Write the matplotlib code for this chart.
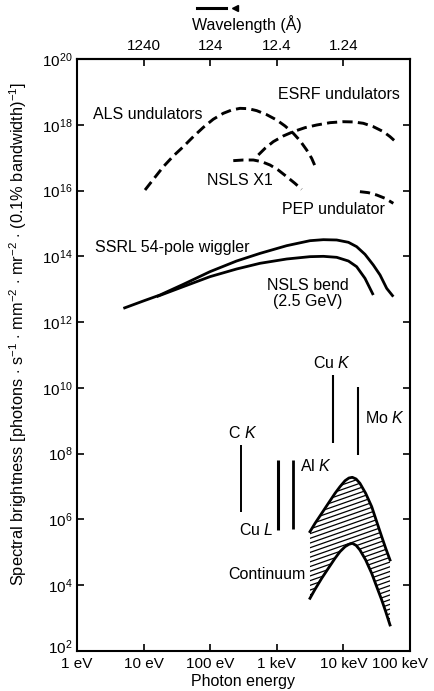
import numpy as np
import matplotlib
matplotlib.use("Agg")
import matplotlib.pyplot as plt
import matplotlib.transforms as mtrans
from matplotlib.collections import LineCollection
from matplotlib.ticker import FixedLocator, NullLocator, FixedFormatter, LogFormatterMathtext
from matplotlib.lines import Line2D

plt.rcParams['font.family'] = ['Liberation Sans', 'DejaVu Sans']
plt.rcParams['mathtext.fontset'] = 'custom'
plt.rcParams['mathtext.rm'] = 'Liberation Sans'
plt.rcParams['mathtext.it'] = 'Liberation Sans:italic'
plt.rcParams['mathtext.bf'] = 'Liberation Sans:bold'

# ---------------- data (photon energy in eV, brightness) ----------------
E_als = [10.5, 14.0, 19.8, 27.9, 39.5, 55.8, 78.9, 111, 157, 210, 280, 374, 499,
         705, 995, 1330, 1770, 2230, 2810, 3340, 3750]
B_als = [1.04e16, 2.19e16, 5.32e16, 1.12e17, 2.16e17, 4.36e17, 8.36e17, 1.47e18,
         2.23e18, 2.81e18, 3.16e18, 3.09e18, 2.69e18, 2.03e18, 1.40e18, 9.18e17,
         5.50e17, 3.29e17, 1.71e17, 9.55e16, 5.58e16]

E_esrf = [528, 665, 887, 1250, 1770, 2650, 3970, 6300, 9980, 14100, 19900, 28100,
          39800, 50100, 63100]
B_esrf = [1.21e17, 1.92e17, 3.07e17, 4.56e17, 6.18e17, 8.17e17, 9.84e17, 1.16e18,
          1.24e18, 1.22e18, 1.11e18, 8.77e17, 6.18e17, 4.36e17, 2.86e17]

E_x1 = [222, 314, 445, 593, 791, 1050, 1410, 1870, 2360]
B_x1 = [8.11e16, 8.49e16, 8.49e16, 7.55e16, 5.98e16, 4.22e16, 2.64e16, 1.66e16, 1.09e16]

E_pep = [17700, 23700, 31600, 42200, 56200]
B_pep = [9.25e15, 8.63e15, 7.33e15, 5.81e15, 4.09e15]

E_ssrl = [4.97, 9.91, 17.6, 39.5, 99.3, 249, 560, 1410, 3150, 5000, 7930, 11900,
          15800, 21100, 28100, 35500, 44700, 56200]
B_ssrl = [2.62e12, 4.39e12, 6.67e12, 1.41e13, 3.42e13, 7.21e13, 1.23e14, 2.11e14,
          2.99e14, 3.21e14, 3.14e14, 2.67e14, 1.97e14, 1.15e14, 5.46e13, 2.71e13,
          1.06e13, 5.94e12]

E_bend = [15.7, 39.5, 99.3, 249, 560, 1410, 3150, 5000, 7930, 11900, 15800, 21100, 28100]
B_bend = [5.94e12, 1.20e13, 2.41e13, 4.12e13, 6.14e13, 8.30e13, 9.77e13, 1.0e14,
          9.33e13, 7.21e13, 4.85e13, 2.14e13, 6.67e12]

line_names = ['C K', 'Cu L', 'Al K', 'Cu K', 'Mo K']
line_E = [290, 1040, 1750, 6980, 16600]
line_top = [1.8e8, 6.4e7, 6.4e7, 2.5e10, 1.07e10]
line_bot = [1.7e6, 4.8e5, 5.0e5, 2.1e8, 9.1e7]

E_cont = [3150, 3750, 4720, 5940, 7480, 8890, 10600, 12100, 13600, 15500, 17700,
          21600, 26600, 31600, 37600, 43200, 50100]
B_cont_hi = [4.26e5, 7.62e5, 1.53e6, 3.09e6, 6.22e6, 9.93e6, 1.51e7, 1.82e7, 1.91e7,
             1.70e7, 1.26e7, 6.22e6, 2.45e6, 8.57e5, 3.0e5, 1.32e5, 5.85e4]
B_cont_lo = [4.0e3, 7.52e3, 1.62e4, 3.27e4, 6.58e4, 1.05e5, 1.49e5, 1.75e5, 1.88e5,
             1.63e5, 1.18e5, 5.85e4, 2.30e4, 9.04e3, 3.56e3, 1.57e3, 6.18e2]

x_ticks = [1, 10, 100, 1e3, 1e4, 1e5]
x_ticklabels = ['1 eV', '10 eV', '100 eV', '1 keV', '10 keV', '100 keV']
y_ticks = [1e2, 1e4, 1e6, 1e8, 1e10, 1e12, 1e14, 1e16, 1e18, 1e20]
wl_ticks = [1240, 124, 12.4, 1.24]
wl_ticklabels = ['1240', '124', '12.4', '1.24']
HC = 12400.0  # eV*Angstrom

# ---------------- figure ----------------
W, H = 434, 691
fig = plt.figure(figsize=(W / 100, H / 100), dpi=100)
fig.patch.set_facecolor('white')
ax = fig.add_axes([77 / W, 1 - 651 / H, 333 / W, 592 / H])
ax.set_xscale('log')
ax.set_yscale('log')
ax.set_xlim(1, 1e5)
ax.set_ylim(1e2, 1e20)

for s in ax.spines.values():
    s.set_linewidth(1.5)

dash = (0, (3.5, 1.8))
lw_c = 2.1
for E, B in [(E_als, B_als), (E_esrf, B_esrf), (E_x1, B_x1), (E_pep, B_pep)]:
    ax.plot(E, B, color='black', lw=lw_c, linestyle=dash)
ax.plot(E_ssrl, B_ssrl, color='black', lw=2.0, solid_capstyle='butt', solid_joinstyle='round')
ax.plot(E_bend, B_bend, color='black', lw=2.0, solid_capstyle='butt', solid_joinstyle='round')

line_lw = [1.4, 2.2, 2.0, 1.5, 1.5]
ax.vlines(line_E, line_bot, line_top, colors='black', linewidths=line_lw)

# continuum band with hatching
poly = ax.fill_between(E_cont, B_cont_lo, B_cont_hi, facecolor='none', edgecolor='none')
slope = 0.35 * 333 / 592
cs = np.arange(-0.4, 0.6, 4.7 / 592)
segs = [[(0, c), (1, c + slope)] for c in cs]
hatch = LineCollection(segs, colors='black', linewidths=0.9, transform=ax.transAxes)
ax.add_collection(hatch)
hatch.set_clip_path(poly.get_paths()[0], poly.get_transform())
ax.plot(E_cont, B_cont_hi, color='black', lw=2.0, solid_joinstyle='round')
ax.plot(E_cont, B_cont_lo, color='black', lw=2.0, solid_joinstyle='round')

# ticks
tfs = 11
ax.xaxis.set_major_locator(FixedLocator(x_ticks))
ax.xaxis.set_major_formatter(FixedFormatter(x_ticklabels))
ax.xaxis.set_minor_locator(NullLocator())
ax.yaxis.set_major_locator(FixedLocator(y_ticks))
ax.yaxis.set_major_formatter(LogFormatterMathtext())
ax.yaxis.set_minor_locator(NullLocator())
ax.tick_params(axis='both', which='major', direction='in', length=5, width=1.2,
               labelsize=tfs, top=False, right=True, pad=3)
ax.tick_params(axis='x', pad=4)
last = ax.xaxis.get_major_ticks()[-1]
last.label1.set_transform(last.label1.get_transform()
                          + mtrans.ScaledTranslation(-10 / 100, 0, fig.dpi_scale_trans))
first_y = ax.yaxis.get_major_ticks()[0]
first_y.label1.set_transform(first_y.label1.get_transform()
                             + mtrans.ScaledTranslation(0, 5 / 100, fig.dpi_scale_trans))

sec = ax.secondary_xaxis('top', functions=(lambda e: HC / e, lambda l: HC / l))
sec.xaxis.set_major_locator(FixedLocator(wl_ticks))
sec.xaxis.set_major_formatter(FixedFormatter(wl_ticklabels))
sec.xaxis.set_minor_locator(NullLocator())
sec.tick_params(direction='in', length=5, width=1.2, labelsize=tfs, pad=4)
sec.spines['top'].set_linewidth(1.5)

# labels on curves
fs = 11.5
ax.text(1.74, 10**18.30, 'ALS undulators', fontsize=fs, va='center', ha='left')
ax.text(1040, 10**18.91, 'ESRF undulators', fontsize=fs, va='center', ha='left')
ax.text(89, 10**16.32, 'NSLS X1', fontsize=fs, va='center', ha='left')
ax.text(1200, 10**15.41, 'PEP undulator', fontsize=fs, va='center', ha='left')
ax.text(1.86, 10**14.28, 'SSRL 54-pole wiggler', fontsize=fs, va='center', ha='left')
ax.text(2940, 10**12.87, 'NSLS bend\n(2.5 GeV)', fontsize=fs, va='center', ha='center',
        linespacing=1.05)
ax.text(3500, 10**10.76, r'Cu $\mathit{K}$', fontsize=fs, va='center', ha='left')
ax.text(21100, 10**9.08, r'Mo $\mathit{K}$', fontsize=fs, va='center', ha='left')
ax.text(185, 10**8.63, r'C $\mathit{K}$', fontsize=fs, va='center', ha='left')
ax.text(271, 10**5.68, r'Cu $\mathit{L}$', fontsize=fs, va='center', ha='left')
ax.text(2230, 10**7.63, r'Al $\mathit{K}$', fontsize=fs, va='center', ha='left')
ax.text(185, 10**4.34, 'Continuum', fontsize=fs, va='center', ha='left')

# axis titles
fig.text(247 / W, 1 - 30 / H, 'Wavelength (Å)', fontsize=fs, ha='center', va='baseline')
fig.text(243 / W, 1 - 686 / H, 'Photon energy', fontsize=fs, ha='center', va='baseline')
fig.text(18 / W, 1 - 334 / H,
         r'Spectral brightness [photons $\cdot$ s$^{-1}$ $\cdot$ mm$^{-2}$ $\cdot$ mr$^{-2}$ $\cdot$ (0.1% bandwidth)$^{-1}$]',
         fontsize=11.8, rotation=90, ha='center', va='center')

# small arrow above wavelength title
fig.add_artist(Line2D([197 / W, 226 / W], [1 - 8 / H, 1 - 8 / H], color='black', lw=2.2,
                      transform=fig.transFigure))
fig.add_artist(Line2D([235 / W], [1 - 8 / H], marker='<', markersize=5, color='black',
                      linestyle='none', transform=fig.transFigure))

fig.savefig('out.png', dpi=100, facecolor='white')
